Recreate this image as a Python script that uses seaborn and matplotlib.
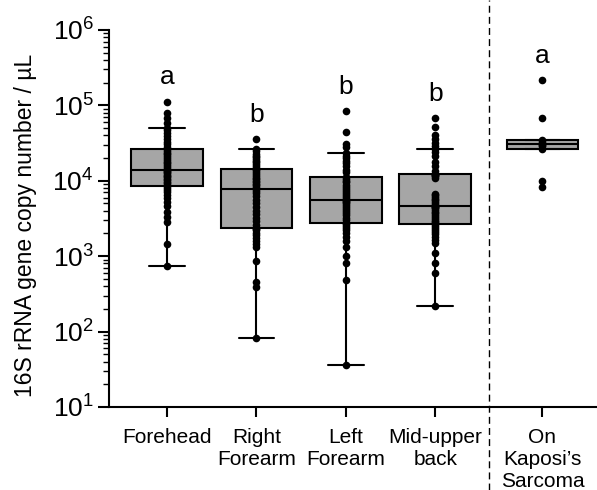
import numpy as np
import pandas as pd
import matplotlib
matplotlib.use("Agg")
from matplotlib import pyplot as plt
import seaborn as sns

# Sampling sites and significance groups
sites = ["Forehead", "Right\nForearm", "Left\nForearm", "Mid-upper\nback", "On\nKaposi\u2019s\nSarcoma"]
letters = ["a", "b", "b", "b", "a"]

# 16S rRNA gene copies / uL
forehead = [748, 1450, 2840, 3300, 3900, 4600, 5300, 5900, 6500, 7100, 7600, 8100,
            8530,
            8900, 9300, 9700, 10100, 10600, 11100, 11600, 12100, 12600, 13000, 13400,
            13800,
            14500, 15300, 16200, 17100, 18000, 19000, 20100, 21300, 22500, 23700, 25000,
            26200,
            28000, 30500, 33000, 36000, 39500, 43000, 47000, 50600, 58000, 68000, 80000, 112000]
right_forearm = [83, 390, 455, 863, 1325, 1450, 1600, 1750, 1900, 2050, 2200, 2300,
                 2390,
                 2600, 2900, 3200, 3600, 4000, 4500, 5000, 5600, 6200, 6800, 7300,
                 7860,
                 8300, 8700, 9100, 9500, 10000, 10500, 11000, 11700, 12400, 13000, 13700,
                 14400,
                 15000, 15800, 16600, 17500, 18500, 19500, 20500, 21500, 23000, 24500, 26200, 35800]
left_forearm = [36, 483, 810, 1000, 1325, 1600, 1800, 2000, 2200, 2400, 2550, 2680,
                2780,
                3000, 3250, 3500, 3750, 4000, 4250, 4500, 4750, 5000, 5200, 5350,
                5510,
                5800, 6100, 6500, 6900, 7300, 7800, 8300, 8900, 9500, 10000, 10500,
                11100,
                13000, 14000, 15500, 17000, 18500, 20000, 21500, 23500, 28000, 31000, 44400, 84300]
mid_upper_back = [219, 598, 810, 1100, 1500, 1650, 1800, 1950, 2100, 2250, 2400, 2520,
                  2650,
                  2800, 2950, 3100, 3300, 3500, 3700, 3900, 4100, 4300, 4450, 4550,
                  4630,
                  4900, 5200, 5500, 5800, 6100, 6400, 6700, 11000, 11400, 11800, 12100,
                  12400,
                  13500, 15500, 18000, 21000, 24000, 26200, 29000, 32000, 35500, 40400, 52300, 67500]
kaposi = [8300, 9900, 26200, 28500, 30000, 31000, 33000, 35000, 68700, 217000]

groups = [forehead, right_forearm, left_forearm, mid_upper_back, kaposi]

# x layout: the lesion sample sits a bit apart from the healthy skin sites
x_pos = [0, 1, 2, 3, 4.2]

df = pd.DataFrame({
    "pos": np.repeat(x_pos, [len(g) for g in groups]),
    "copies": np.concatenate(groups).astype(float),
})

sns.set_style("ticks")
plt.rcParams["font.family"] = ["Liberation Sans", "DejaVu Sans"]
plt.rcParams["mathtext.fontset"] = "custom"
plt.rcParams["mathtext.rm"] = "Liberation Sans"
plt.rcParams["mathtext.default"] = "regular"
plt.rcParams["text.color"] = "black"
plt.rcParams["axes.labelcolor"] = "black"

fig = plt.figure(figsize=(5.97, 4.9), dpi=100)
ax = fig.add_axes([0.1826, 0.1694, 0.8174, 0.7694])

sns.boxplot(data=df, x="pos", y="copies", native_scale=True, width=0.8,
            color="#a6a6a6", saturation=1, linecolor="black", linewidth=1.5,
            showfliers=False, ax=ax)
sns.stripplot(data=df, x="pos", y="copies", native_scale=True, jitter=False,
              color="black", size=5.5, ax=ax)

ax.set_yscale("log")
ax.set_ylim(10, 1e6)
ax.set_xlim(-0.65, 4.81)

sns.despine(ax=ax)
for side in ["left", "bottom"]:
    ax.spines[side].set_linewidth(1.5)
    ax.spines[side].set_color("black")

ax.set_xticks(x_pos, sites)
ax.tick_params(axis="x", length=7, width=1.5, labelsize=15, pad=8, color="black", labelcolor="black")
ax.tick_params(axis="y", which="major", length=8, width=1.5, labelsize=19, pad=3, color="black", labelcolor="black")
ax.tick_params(axis="y", which="minor", length=4, width=1, color="black")
ax.set_xlabel("")
ax.set_ylabel("16S rRNA gene copy number / \u00b5L", fontsize=16.5, labelpad=11)
ax.yaxis.label.set_y(0.483)

# divider between healthy skin and the lesion
ax.axvline(3.6, ymin=-0.22, ymax=1.08, clip_on=False, color="black", lw=1, ls=(0, (5, 3)))

for p, g, l in zip(x_pos, groups, letters):
    ax.text(p, max(g) * 1.7, l, ha="center", va="baseline", fontsize=19, color="black")

fig.savefig("out.png", dpi=100)
